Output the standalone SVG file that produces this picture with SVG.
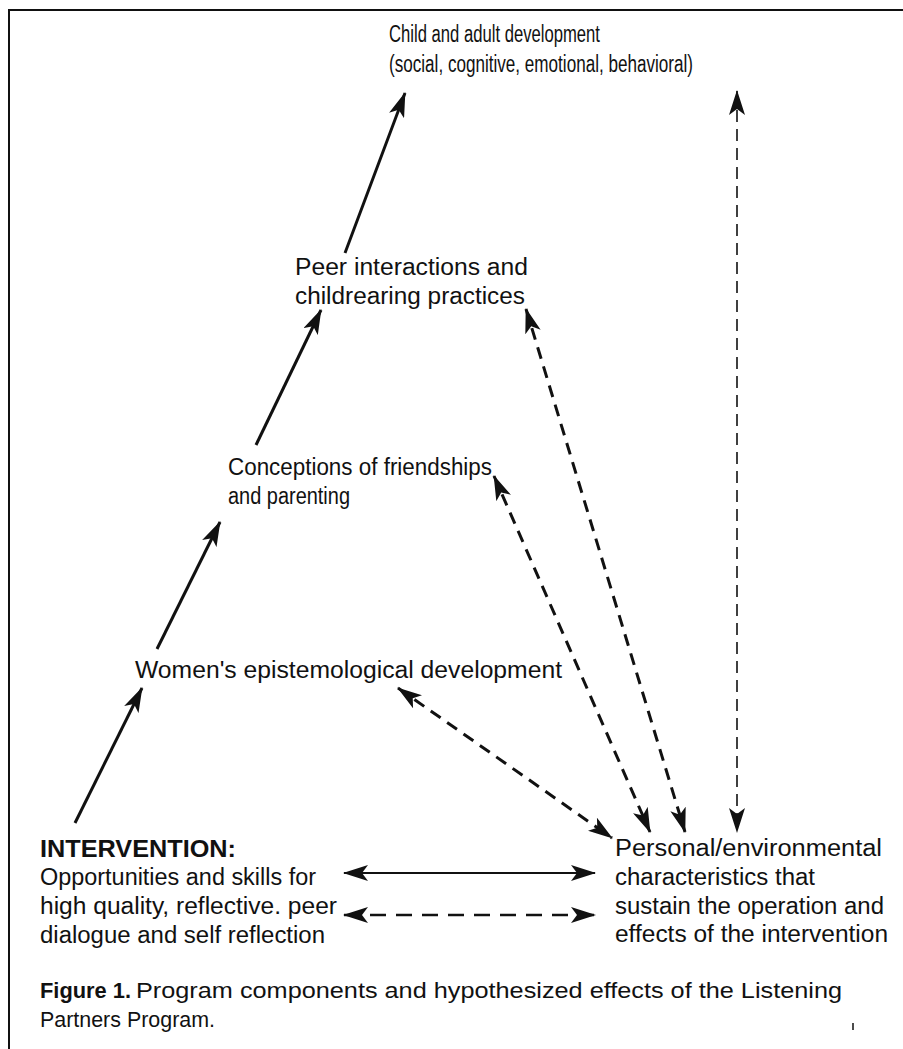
<svg xmlns="http://www.w3.org/2000/svg" width="903" height="1049" viewBox="0 0 903 1049">
<style>
text{font-family:"Liberation Sans",Arial,Helvetica,sans-serif;font-size:23px;fill:#111}
.b{font-weight:bold}
.c{font-size:22px}
.s{fill:none;stroke:#111;stroke-width:3}
.d{fill:none;stroke:#111;stroke-width:3;stroke-dasharray:12 8}
.v{fill:none;stroke:#111;stroke-width:1.6;stroke-dasharray:12 7}
.h{fill:none;stroke:#111;stroke-width:2}
.hd{fill:none;stroke:#111;stroke-width:2.5;stroke-dasharray:16 10}
</style>
<defs>
<marker id="ah" viewBox="0 0 25 16" refX="24" refY="8" markerWidth="25" markerHeight="16" markerUnits="userSpaceOnUse" orient="auto-start-reverse">
<path d="M0,0 L25,8 L0,16 L6,8 z" fill="#111"/>
</marker>
</defs>
<rect width="903" height="1049" fill="#fff"/>
<g id="frame" fill="none" stroke="#111" stroke-width="2">
<path d="M9,1049 V10 H903"/>
</g>
<g id="connectors">
<path class="s" d="M75,823 L142,688" marker-end="url(#ah)"/>
<path class="s" d="M157,649 L220,522" marker-end="url(#ah)"/>
<path class="s" d="M256,445 L321,310" marker-end="url(#ah)"/>
<path class="s" d="M345,253 L405,93" marker-end="url(#ah)"/>
<path class="v" d="M737,91 L737,832" marker-start="url(#ah)" marker-end="url(#ah)"/>
<path class="d" d="M526,309 L685,832" marker-start="url(#ah)" marker-end="url(#ah)"/>
<path class="d" d="M494,476 L650,832" marker-start="url(#ah)" marker-end="url(#ah)"/>
<path class="d" d="M398,688 L612,838" marker-start="url(#ah)" marker-end="url(#ah)"/>
<path class="h" d="M344,873 L595,873" marker-start="url(#ah)" marker-end="url(#ah)"/>
<path class="hd" d="M344,915 L595,915" marker-start="url(#ah)" marker-end="url(#ah)"/>
</g>
<g id="child-adult">
<text x="389" y="42" textLength="211" lengthAdjust="spacingAndGlyphs">Child and adult development</text>
<text x="389" y="72" textLength="304" lengthAdjust="spacingAndGlyphs">(social, cognitive, emotional, behavioral)</text>
</g>
<g id="peer">
<text x="295" y="275" textLength="233" lengthAdjust="spacingAndGlyphs">Peer interactions and</text>
<text x="295" y="304" textLength="230" lengthAdjust="spacingAndGlyphs">childrearing practices</text>
</g>
<g id="conceptions">
<text x="228" y="475" textLength="264" lengthAdjust="spacingAndGlyphs">Conceptions of friendships</text>
<text x="228" y="504" textLength="122" lengthAdjust="spacingAndGlyphs">and parenting</text>
</g>
<g id="womens">
<text x="135" y="678" textLength="427" lengthAdjust="spacingAndGlyphs">Women's epistemological development</text>
</g>
<g id="intervention">
<text class="b" x="40" y="857" textLength="196" lengthAdjust="spacingAndGlyphs">INTERVENTION:</text>
<text x="40" y="885" textLength="276" lengthAdjust="spacingAndGlyphs">Opportunities and skills for</text>
<text x="40" y="914" textLength="297" lengthAdjust="spacingAndGlyphs">high quality, reflective. peer</text>
<text x="40" y="943" textLength="285" lengthAdjust="spacingAndGlyphs">dialogue and self reflection</text>
</g>
<g id="personal">
<text x="615" y="856" textLength="267" lengthAdjust="spacingAndGlyphs">Personal/environmental</text>
<text x="615" y="885" textLength="200" lengthAdjust="spacingAndGlyphs">characteristics that</text>
<text x="615" y="914" textLength="269" lengthAdjust="spacingAndGlyphs">sustain the operation and</text>
<text x="615" y="942" textLength="273" lengthAdjust="spacingAndGlyphs">effects of the intervention</text>
</g>
<g id="caption">
<text class="b c" x="40" y="998" textLength="91" lengthAdjust="spacingAndGlyphs">Figure 1.</text>
<text class="c" x="136" y="998" textLength="706" lengthAdjust="spacingAndGlyphs">Program components and hypothesized effects of the Listening</text>
<text class="c" x="40" y="1027" textLength="175" lengthAdjust="spacingAndGlyphs">Partners Program.</text>
<path d="M853,1023 V1030" stroke="#111" stroke-width="1.5"/>
</g>
</svg>
